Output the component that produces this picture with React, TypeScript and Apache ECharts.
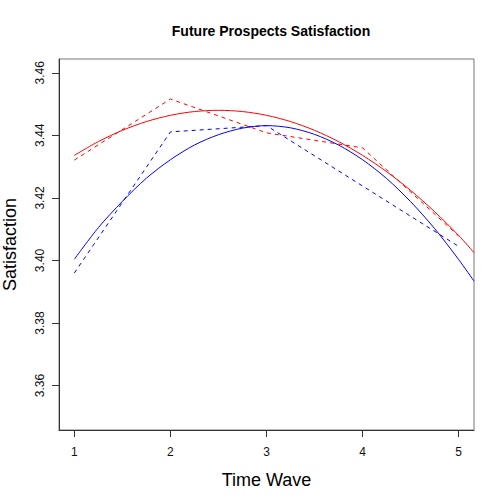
import React, { useEffect, useRef } from "react";
import * as echarts from "echarts";

const titleText = "Future Prospects Satisfaction";
const xTitle = "Time Wave";
const yTitle = "Satisfaction";

const xTicks = [1, 2, 3, 4, 5];
const yTicks = [3.36, 3.38, 3.4, 3.42, 3.44, 3.46];

const waves = [1, 2, 3, 4, 5];
const redObserved = [3.4321, 3.4516, 3.4408, 3.436, 3.4078];
const blueObserved = [3.396, 3.4411, 3.4431, 3.4238, 3.4045];

const curveX = [1, 1.25, 1.5, 1.75, 2, 2.25, 2.5, 2.75, 3, 3.25, 3.5, 3.75, 4, 4.25, 4.5, 4.75, 5, 5.16];
const redFitted = [
  3.4336, 3.438, 3.4416, 3.4444, 3.4464, 3.4476, 3.448, 3.4476, 3.4464, 3.4444, 3.4416, 3.438,
  3.4336, 3.4284, 3.4224, 3.4156, 3.408, 3.4025,
];
const blueFitted = [
  3.4004, 3.4105, 3.4189, 3.4263, 3.4322, 3.4369, 3.4402, 3.4423, 3.4431, 3.4424, 3.4403, 3.4369,
  3.4322, 3.4262, 3.4188, 3.4102, 3.4003, 3.3934,
];

const pair = (xs: number[], ys: number[]) => xs.map((x, i) => [x, ys[i]]);

const FONT = "Liberation Sans, Arial, Helvetica, sans-serif";

export default function App() {
  const ref = useRef<HTMLDivElement>(null);
  useEffect(() => {
    if (!ref.current) return;
    const chart = echarts.init(ref.current, undefined, { renderer: "svg" });
    chart.setOption({
      animation: false,
      backgroundColor: "#ffffff",
      title: {
        text: titleText,
        left: 266,
        top: 19,
        textAlign: "center",
        textStyle: { fontFamily: FONT, fontSize: 14, fontWeight: "bold", color: "#000" },
      },
      grid: {
        left: 59,
        top: 59,
        right: 30,
        bottom: 74,
        containLabel: false,
        outerBoundsMode: "none",
        show: true,
        borderColor: "#777",
        borderWidth: 1,
      },
      xAxis: {
        type: "value",
        min: 0.84,
        max: 5.16,
        name: xTitle,
        nameLocation: "middle",
        nameGap: 41,
        nameTextStyle: { fontFamily: FONT, fontSize: 18, color: "#000" },
        axisLine: { show: true, lineStyle: { color: "#333", width: 1 } },
        axisTick: { show: true, length: 7, customValues: xTicks, lineStyle: { color: "#333" } },
        axisLabel: {
          customValues: xTicks,
          margin: 16,
          fontFamily: FONT,
          fontSize: 12,
          color: "#111",
          formatter: (v: number) => String(v),
        },
        splitLine: { show: false },
      },
      yAxis: {
        type: "value",
        min: 3.3458,
        max: 3.4644,
        name: yTitle,
        nameLocation: "middle",
        nameGap: 40,
        nameRotate: 90,
        nameTextStyle: { fontFamily: FONT, fontSize: 18, color: "#000" },
        axisLine: { show: true, lineStyle: { color: "#333", width: 1 } },
        axisTick: { show: true, length: 7, customValues: yTicks, lineStyle: { color: "#333" } },
        axisLabel: {
          customValues: yTicks,
          rotate: 90,
          margin: 13,
          fontFamily: FONT,
          fontSize: 12,
          color: "#111",
          formatter: (v: number) => v.toFixed(2),
        },
        splitLine: { show: false },
      },
      series: [
        {
          type: "line",
          data: pair(curveX, redFitted),
          smooth: 0.3,
          showSymbol: false,
          clip: true,
          lineStyle: { color: "#ff0000", width: 1 },
        },
        {
          type: "line",
          data: pair(curveX, blueFitted),
          smooth: 0.3,
          showSymbol: false,
          clip: true,
          lineStyle: { color: "#0000ff", width: 1 },
        },
        {
          type: "line",
          data: pair(waves, redObserved),
          showSymbol: false,
          lineStyle: { color: "#ff0000", width: 1, type: [4, 4] },
        },
        {
          type: "line",
          data: pair(waves, blueObserved),
          showSymbol: false,
          lineStyle: { color: "#0000ff", width: 1, type: [4, 4] },
        },
      ],
    });
    return () => chart.dispose();
  }, []);
  return (
    <div
      ref={ref}
      style={{ position: "absolute", left: 0, top: 0, width: 504, height: 504 }}
    />
  );
}
